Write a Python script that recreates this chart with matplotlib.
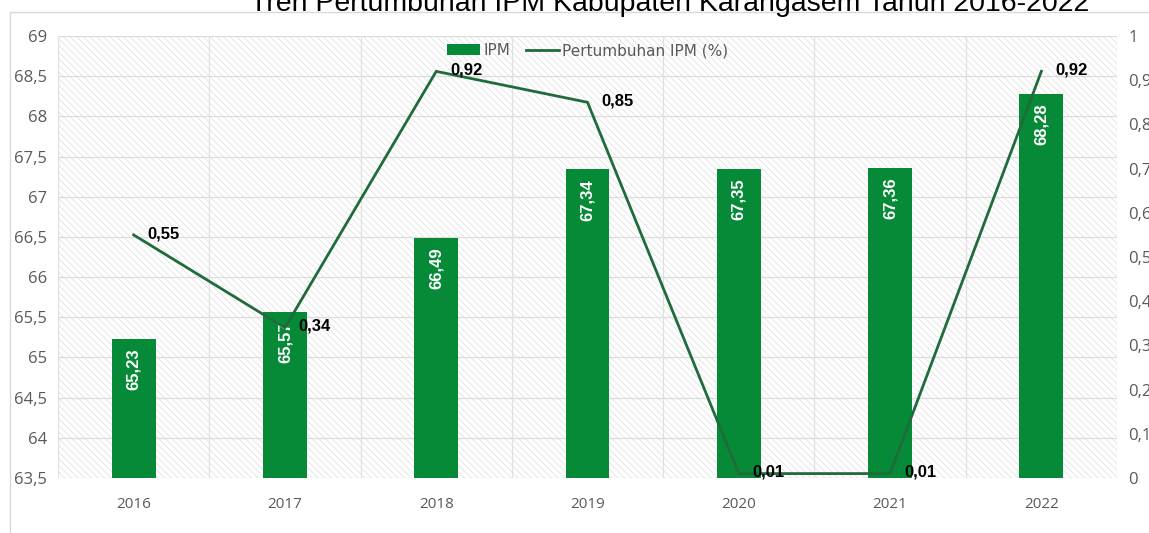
import matplotlib.pyplot as plt
import matplotlib as mpl
from matplotlib.lines import Line2D
from matplotlib.patches import Patch
import numpy as np

years = ['2016', '2017', '2018', '2019', '2020', '2021', '2022']
ipm = [65.23, 65.57, 66.49, 67.34, 67.35, 67.36, 68.28]
growth = [0.55, 0.34, 0.92, 0.85, 0.01, 0.01, 0.92]
left_ticks = [63.5, 64, 64.5, 65, 65.5, 66, 66.5, 67, 67.5, 68, 68.5, 69]
right_ticks = [0, 0.1, 0.2, 0.3, 0.4, 0.5, 0.6, 0.7, 0.8, 0.9, 1]

bar_color = '#078a37'
line_color = '#1f6b3c'
tick_color = '#595959'

def fmt(v):
    s = ('%g' % v).replace('.', ',')
    return s

mpl.rcParams['hatch.color'] = '#e2e2e2'
mpl.rcParams['hatch.linewidth'] = 0.6

W, H = 1149, 533
fig = plt.figure(figsize=(W / 100, H / 100), dpi=100)
ax = fig.add_axes([58 / W, 1 - 478 / H, (1117 - 58) / W, (478 - 36) / H])
ax.set_facecolor('white')
ax.patch.set_hatch('\\\\\\\\\\')
ax.patch.set_edgecolor('#e2e2e2')
ax.patch.set_linewidth(0)

x = np.arange(len(years))
ax.bar(x, ipm, width=0.29, color=bar_color, zorder=3)
ax.set_ylim(63.5, 69)
ax.set_xlim(-0.5, len(years) - 0.5)
ax.set_yticks(left_ticks)
ax.set_yticklabels([fmt(v) for v in left_ticks], fontsize=12, color=tick_color,
                   family='Open Sans')
ax.set_xticks(x)
ax.set_xticklabels(years, fontsize=11, color=tick_color, family='Open Sans')
ax.tick_params(axis='both', length=0)
ax.tick_params(axis='x', pad=14)
ax.tick_params(axis='y', pad=8)
for v in left_ticks:
    ax.axhline(v, color='#dcdcdc', lw=0.9, zorder=1)
for b in np.arange(-0.5, len(years), 1.0):
    ax.axvline(b, color='#e0e0e0', lw=0.9, zorder=1)
for s in ax.spines.values():
    s.set_visible(False)

for xi, v in zip(x, ipm):
    ax.text(xi, v - 0.12, fmt(v), rotation=90, ha='center', va='top',
            color='white', fontsize=12, fontweight='bold', family='Liberation Sans',
            zorder=4)

ax2 = ax.twinx()
ax2.plot(x, growth, color=line_color, lw=2, zorder=5)
ax2.set_ylim(0, 1)
ax2.set_yticks(right_ticks)
ax2.set_yticklabels([fmt(v) for v in right_ticks], fontsize=12, color=tick_color,
                    family='Open Sans')
ax2.tick_params(axis='y', length=0, pad=8)
for s in ax2.spines.values():
    s.set_visible(False)
for xi, v in zip(x, growth):
    ax2.annotate(fmt(v), (xi, v), xytext=(10, 1), textcoords='offset points',
                 ha='left', va='center', fontsize=12, fontweight='bold',
                 family='Liberation Sans', color='black', zorder=6)

handles = [Patch(facecolor=bar_color), Line2D([0], [0], color=line_color, lw=2)]
leg = ax2.legend(handles, ['IPM', 'Pertumbuhan IPM (%)'], loc='upper center',
                 bbox_to_anchor=(0.5, 1.015), ncol=2, frameon=False,
                 prop={'family': 'Liberation Sans Narrow', 'size': 11},
                 handlelength=2.2, handleheight=0.7, columnspacing=1.0,
                 handletextpad=0.2)
for t in leg.get_texts():
    t.set_color(tick_color)

fig.text(670 / W, 1 - 4 / H, 'Tren Pertumbuhan IPM Kabupaten Karangasem Tahun 2016-2022',
         ha='center', va='center', fontsize=20.5, family='Liberation Sans', color='black')
fig.add_artist(Line2D([10 / W, 1], [1 - 12 / H, 1 - 12 / H], color='#d9d9d9', lw=1))
fig.add_artist(Line2D([10 / W, 10 / W], [0, 1 - 12 / H], color='#d9d9d9', lw=1))

fig.savefig('out.png', dpi=100)
